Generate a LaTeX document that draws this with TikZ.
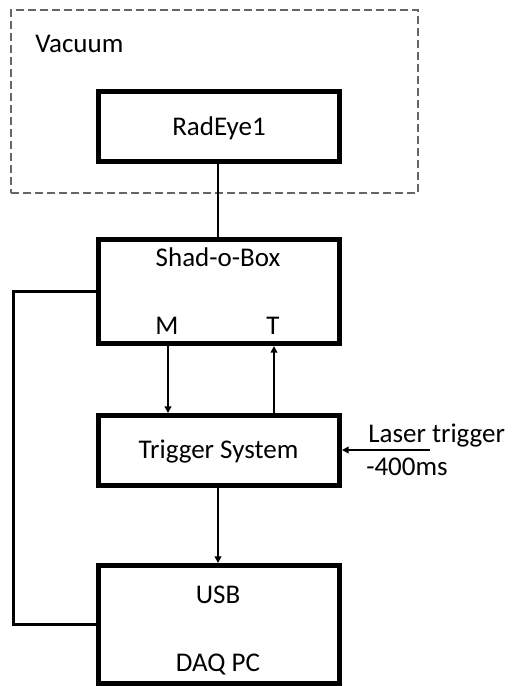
\documentclass[tikz,border=0pt]{standalone}
\usepackage{fontspec}
\setmainfont{Carlito}
\usetikzlibrary{arrows.meta}
\begin{document}
\begin{tikzpicture}[x=0.75pt,y=-0.75pt,
  box/.style={draw,line width=3.75pt,inner sep=0pt,minimum width=180.75pt},
  lbl/.style={font=\fontsize{20.25pt}{24pt}\selectfont,inner sep=0pt,anchor=base},
  lblw/.style={lbl,anchor=base west},
  conn/.style={line width=1.5pt},
  arr/.style={conn,-{Triangle[width=5pt,length=5pt]}},
  vac/.style={draw=black!60,line width=1pt,dash pattern=on 6pt off 3pt}]
\useasboundingbox (0,0) rectangle (517,686);
\fill[white] (0,0) rectangle (517,686);
% vacuum region
\node[vac,inner sep=0pt,minimum width=305.25pt,minimum height=137.25pt] (vacbox) at (214.5,101.5) {};
\node[lblw] (vaclbl) at (35,52) {Vacuum};
% boxes
\node[box,minimum height=52.5pt] (rad) at (219,126.5) {};
\node[box,minimum height=78pt] (shad) at (219,291.5) {};
\node[box,minimum height=52.5pt] (trig) at (219,450.5) {};
\node[box,minimum height=88.5pt] (daq) at (219,624.5) {};
% labels
\node[lbl] (radlbl) at (219,135) {RadEye1};
\node[lbl] (shadlbl) at (218,266) {Shad-o-Box};
\node[lbl] (mlbl) at (167,334) {M};
\node[lbl] (tlbl) at (273,334) {T};
\node[lbl] (triglbl) at (218.5,458) {Trigger System};
\node[lbl] (usblbl) at (218,603) {USB};
\node[lbl] (pclbl) at (218,671) {DAQ PC};
\node[lblw] (laserlbl) at (368,442) {Laser trigger};
\node[lblw] (mslbl) at (366,475) {-400ms};
% helper coordinates
\coordinate (mx) at (168,0);
\coordinate (tx) at (274,0);
\coordinate (lx) at (13,0);
\coordinate (cx) at (218,0);
\coordinate (laser) at (430,450);
% connectors
\draw[conn] (rad.south -| cx) -- (shad.north -| cx);
\draw[arr] (shad.south -| mx) -- (trig.north -| mx);
\draw[arr] (trig.north -| tx) -- (shad.south -| tx);
\draw[arr] (laser) -- (trig.east |- laser);
\draw[arr] (trig.south -| cx) -- (daq.north -| cx);
\draw[line width=2.25pt] (shad.west) -- (shad.west -| lx) -- (daq.west -| lx) -- (daq.west);
\end{tikzpicture}
\end{document}
